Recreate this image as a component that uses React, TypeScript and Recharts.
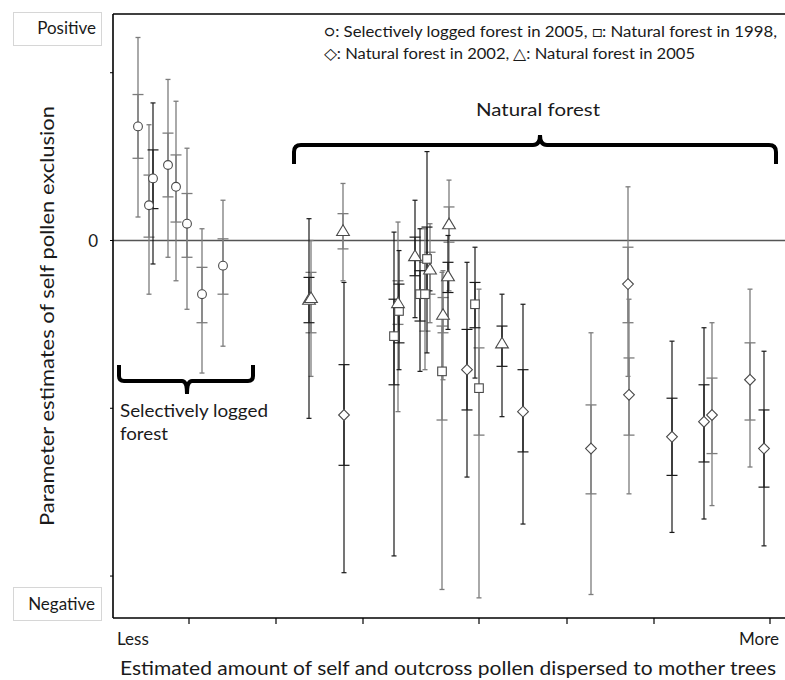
import React from "react";
import { ErrorBar, ReferenceLine, Scatter, ScatterChart, XAxis, YAxis } from "recharts";

// each row: [x, estimate, outer high, inner high, inner low, outer low, tone (1 = dark bar, 0 = grey bar)]
type Row = [number, number, number, number, number, number, number];

const logged2005: Row[] = [
  [25, 0.68, 1.21, 0.87, 0.49, 0.14, 0],
  [36, 0.21, 0.69, 0.39, 0.02, -0.32, 0],
  [40, 0.37, 0.82, 0.54, 0.19, -0.14, 1],
  [55, 0.45, 0.96, 0.64, 0.26, -0.1, 0],
  [63, 0.32, 0.83, 0.51, 0.11, -0.24, 0],
  [74, 0.1, 0.55, 0.28, -0.1, -0.41, 0],
  [89, -0.32, 0.07, -0.16, -0.49, -0.79, 0],
  [110, -0.15, 0.24, 0.01, -0.32, -0.63, 0],
];

const natural1998: Row[] = [
  [281, -0.57, 0.05, -0.35, -0.86, -1.88, 1],
  [286, -0.42, -0.06, -0.26, -0.61, -0.77, 1],
  [307, -0.32, 0.07, -0.18, -0.48, -0.78, 1],
  [312, -0.32, 0.07, -0.13, -0.54, -0.77, 0],
  [314, -0.11, 0.53, 0.08, -0.3, -0.67, 1],
  [329, -0.78, -0.19, -0.51, -1.07, -2.08, 0],
  [362, -0.38, -0.04, -0.25, -0.52, -0.82, 1],
  [366, -0.88, -0.29, -0.64, -1.16, -2.13, 0],
];

const natural2002: Row[] = [
  [231, -1.04, -0.25, -0.74, -1.34, -1.98, 1],
  [354, -0.77, -0.13, -0.53, -1.01, -1.41, 1],
  [410, -1.02, -0.38, -0.77, -1.26, -1.69, 1],
  [478, -1.24, -0.55, -0.98, -1.51, -2.11, 0],
  [515, -0.26, 0.32, -0.04, -0.49, -0.81, 0],
  [516, -0.92, -0.35, -0.7, -1.16, -1.51, 0],
  [559, -1.17, -0.6, -0.94, -1.4, -1.74, 1],
  [591, -1.08, -0.52, -0.86, -1.32, -1.66, 1],
  [599, -1.04, -0.49, -0.82, -1.27, -1.58, 0],
  [637, -0.83, -0.29, -0.61, -1.07, -1.35, 0],
  [651, -1.24, -0.66, -1.01, -1.47, -1.82, 1],
];

const natural2005: Row[] = [
  [196, -0.35, 0.13, -0.22, -0.49, -1.06, 1],
  [198, -0.34, 0, -0.19, -0.55, -0.81, 0],
  [230, 0.06, 0.34, 0.16, -0.05, -0.24, 0],
  [285, -0.37, 0.11, -0.24, -0.5, -1.02, 0],
  [302, -0.09, 0.24, 0.02, -0.21, -0.46, 1],
  [317, -0.17, 0.1, -0.07, -0.32, -0.49, 0],
  [330, -0.44, -0.18, -0.34, -0.55, -0.83, 0],
  [336, 0.1, 0.36, 0.2, -0.01, -0.3, 0],
  [335, -0.21, 0.03, -0.13, -0.31, -0.53, 1],
  [389, -0.61, -0.32, -0.51, -0.75, -1.05, 1],
];

const xTicks = [76, 163, 250, 366, 454, 541, 657];
const yTicks = [-2, -1, 0, 1];
const yDomain: [number, number] = [-2.25, 1.35];

const legendLine1 = "\u25CB: Selectively logged forest in 2005, \u25A1: Natural forest in 1998,";
const legendLine2 = "\u25C7: Natural forest in 2002, \u25B3: Natural forest in 2005";
const yTitle = "Parameter estimates of self pollen exclusion";
const xTitle = "Estimated amount of self and outcross pollen dispersed to mother trees";

const toPoints = (rows: Row[], shape: string) =>
  rows.map(([x, y, oh, ih, il, ol, tone]) => ({
    x,
    y,
    shape,
    tone,
    outer: [y - ol, oh - y],
    inner: [y - il, ih - y],
  }));

const allPoints = [
  ...toPoints(logged2005, "circle"),
  ...toPoints(natural1998, "square"),
  ...toPoints(natural2002, "diamond"),
  ...toPoints(natural2005, "triangle"),
];
const greyBars = allPoints.filter((p) => p.tone === 0);
const darkBars = allPoints.filter((p) => p.tone === 1);

const FONT = "Lato, 'Open Sans', sans-serif";
const INK = "#1a1a1a";

function Marker(props: any) {
  const { cx, cy, payload } = props;
  if (cx == null || cy == null) return <g />;
  const st = { fill: "#fff", stroke: "#4a4a4a", strokeWidth: 1.1 };
  if (payload.shape === "circle") return <circle cx={cx} cy={cy} r={4.4} {...st} />;
  if (payload.shape === "square") return <rect x={cx - 4.3} y={cy - 4.3} width={8.6} height={8.6} {...st} />;
  if (payload.shape === "diamond")
    return <path d={`M${cx},${cy - 5.4}L${cx + 5.4},${cy}L${cx},${cy + 5.4}L${cx - 5.4},${cy}Z`} {...st} />;
  return <path d={`M${cx},${cy - 5.6}L${cx + 6.4},${cy + 5}L${cx - 6.4},${cy + 5}Z`} {...st} />;
}

const Blank = () => <g />;

function YTick(props: any) {
  const { x, y, payload } = props;
  if (payload.value !== 0) return <g />;
  return (
    <text x={x - 10} y={y} dy={6} textAnchor="end" fontFamily={FONT} fontSize={17} fill={INK}>
      0
    </text>
  );
}

export default function App() {
  return (
    <div style={{ position: "absolute", left: 0, top: 0, width: 785, height: 680, background: "#fff" }}>
      <ScatterChart width={785} height={680} margin={{ top: 14, right: 0, bottom: 42, left: 83 }}>
        <XAxis
          type="number"
          dataKey="x"
          domain={[0, 672]}
          ticks={xTicks}
          tick={Blank}
          tickSize={6}
          height={20}
          axisLine={{ stroke: "#000", strokeWidth: 1.6 }}
          tickLine={{ stroke: "#000", strokeWidth: 1.2 }}
        />
        <YAxis
          type="number"
          dataKey="y"
          domain={yDomain}
          allowDataOverflow
          ticks={yTicks}
          tick={YTick}
          tickSize={3}
          width={30}
          axisLine={{ stroke: "#000", strokeWidth: 1.6 }}
          tickLine={{ stroke: "#000", strokeWidth: 1 }}
        />
        <ReferenceLine y={0} stroke="#555" strokeWidth={1.3} />
        <ReferenceLine y={yDomain[1]} stroke="#000" strokeWidth={1.6} />
        <Scatter data={greyBars} shape={Blank} isAnimationActive={false}>
          <ErrorBar dataKey="outer" direction="y" width={2.5} stroke="#7c7c7c" strokeWidth={1.3} isAnimationActive={false} />
          <ErrorBar dataKey="inner" direction="y" width={5.5} stroke="#7c7c7c" strokeWidth={1.3} isAnimationActive={false} />
        </Scatter>
        <Scatter data={darkBars} shape={Blank} isAnimationActive={false}>
          <ErrorBar dataKey="outer" direction="y" width={2.5} stroke="#1a1a1a" strokeWidth={1.2} isAnimationActive={false} />
          <ErrorBar dataKey="inner" direction="y" width={5.5} stroke="#1a1a1a" strokeWidth={1.2} isAnimationActive={false} />
        </Scatter>
        <Scatter data={allPoints} shape={Marker} isAnimationActive={false} />
      </ScatterChart>

      <svg
        width={785}
        height={680}
        style={{ position: "absolute", left: 0, top: 0, pointerEvents: "none" }}
        fontFamily={FONT}
        fill={INK}
      >
        <rect x={13.5} y={12.5} width={88} height={33} fill="#fff" stroke="#d6d6d6" />
        <text x={96} y={34} textAnchor="end" fontSize={17}>Positive</text>
        <rect x={13.5} y={587.5} width={88} height={33} fill="#fff" stroke="#d6d6d6" />
        <text x={95} y={610} textAnchor="end" fontSize={17}>Negative</text>

        <text
          transform="translate(54,316) rotate(-90)"
          textAnchor="middle"
          fontSize={19}
          textLength={420}
          lengthAdjust="spacingAndGlyphs"
        >
          {yTitle}
        </text>
        <text x={120} y={675} fontSize={19} textLength={656} lengthAdjust="spacingAndGlyphs">
          {xTitle}
        </text>
        <text x={117} y={645} fontSize={17}>Less</text>
        <text x={779} y={645} textAnchor="end" fontSize={17}>More</text>

        <text x={324} y={37} fontSize={15.5} textLength={453} lengthAdjust="spacingAndGlyphs">
          {legendLine1}
        </text>
        <text x={324} y={59} fontSize={15.5} textLength={371} lengthAdjust="spacingAndGlyphs">
          {legendLine2}
        </text>

        <text x={476} y={116} fontSize={18} textLength={124} lengthAdjust="spacingAndGlyphs">Natural forest</text>
        <path
          d="M294,164 L294,152 Q294,145 301,145 L533,145 Q540,145 540,135 Q540,145 547,145 L769,145 Q776,145 776,152 L776,164"
          fill="none"
          stroke="#000"
          strokeWidth={4}
        />

        <path
          d="M119,365 L119,376 Q119,381 124,381 L182,381 Q187,381 187,394 Q187,381 192,381 L248,381 Q253,381 253,376 L253,365"
          fill="none"
          stroke="#000"
          strokeWidth={4}
        />
        <text x={120} y={417} fontSize={18} textLength={148} lengthAdjust="spacingAndGlyphs">Selectively logged</text>
        <text x={120} y={440} fontSize={18} textLength={48} lengthAdjust="spacingAndGlyphs">forest</text>
      </svg>
    </div>
  );
}
